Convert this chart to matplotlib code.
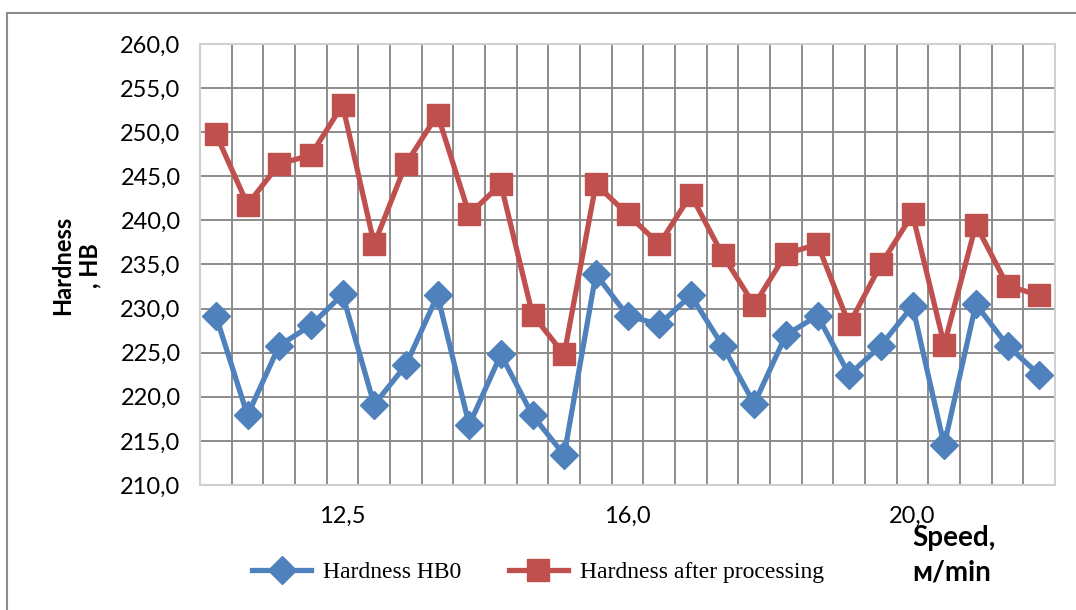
import numpy as np
import matplotlib
matplotlib.use('Agg')
import matplotlib.pyplot as plt
from matplotlib.patches import Rectangle

# Hardness readings for 27 samples (3 speed groups of 9)
hb0 = [229.2, 217.9, 225.8, 228.1, 231.6, 219.1, 223.6, 231.5, 216.8,
       224.8, 217.9, 213.4, 233.9, 229.2, 228.2, 231.5, 225.8, 219.2,
       227.0, 229.2, 222.5, 225.8, 230.3, 214.5, 230.5, 225.8, 222.5]
hb_after = [249.8, 241.8, 246.4, 247.4, 253.1, 237.3, 246.4, 252.0, 240.7,
            244.1, 229.3, 224.8, 244.1, 240.7, 237.3, 242.9, 236.1, 230.4,
            236.2, 237.3, 228.2, 235.0, 240.7, 225.9, 239.5, 232.6, 231.5]
speed_labels = ['12,5', '16,0', '20,0']
group_size = 9

blue = '#4F81BD'
red = '#C0504D'
grid_col = '#8C8C8C'

fig = plt.figure(figsize=(10.76, 6.10), dpi=100)
ax = fig.add_axes([0.1859, 0.2049, 0.7946, 0.7230])

x = np.arange(len(hb0))
ax.plot(x, hb0, color=blue, lw=3.8, marker='D', ms=14, label='Hardness HB0', zorder=3)
ax.plot(x, hb_after, color=red, lw=3.8, marker='s', ms=15.5, label='Hardness after processing', zorder=3)

ax.set_xlim(-0.5, len(hb0) - 0.5)
ax.set_ylim(210, 260)
ax.set_yticks(np.arange(210, 261, 5))
ax.set_yticklabels([f'{v:.1f}'.replace('.', ',') for v in np.arange(210, 261, 5)])

# category boundaries as vertical grid lines, labels at group centres
ax.set_xticks(np.arange(-0.5, len(hb0), 1), minor=True)
centres = [g * group_size + (group_size - 1) / 2 for g in range(len(speed_labels))]
ax.set_xticks(centres)
ax.set_xticklabels(speed_labels)
ax.tick_params(which='both', length=0)
ax.tick_params(axis='both', labelsize=17, pad=14)
ax.tick_params(axis='x', pad=15)
for lab in ax.get_xticklabels() + ax.get_yticklabels():
    lab.set_family('Lato')

ax.grid(True, which='minor', axis='x', color=grid_col, lw=1.4)
ax.grid(True, which='major', axis='y', color=grid_col, lw=1.4)
ax.set_axisbelow(True)
for side in ['left', 'bottom', 'top', 'right']:
    ax.spines[side].set_color('#D0D0D0')
    ax.spines[side].set_linewidth(1.5)

fig.text(0.071, 0.565, 'Hardness\n, HB', rotation=90, ha='center', va='center',
         fontsize=17, fontweight='bold', family='Lato', linespacing=1.25,
         multialignment='center')
fig.text(0.848, 0.090, 'Speed,\nм/min', ha='left', va='center', fontsize=20,
         fontweight='bold', family='Lato', linespacing=1.4)

leg = fig.legend(loc='center', bbox_to_anchor=(0.50, 0.062), ncol=2, frameon=False,
                 prop={'family': 'Liberation Serif', 'size': 17},
                 handlelength=2.5, columnspacing=2.0, handletextpad=0.5)

# outer chart frame
fig.patches.append(Rectangle((7 / 1076, -0.1), 1.2, 1 - 13 / 610 + 0.1,
                             transform=fig.transFigure, fill=False,
                             edgecolor='#8C8C8C', lw=1.5))

fig.savefig('out.png', dpi=100)
